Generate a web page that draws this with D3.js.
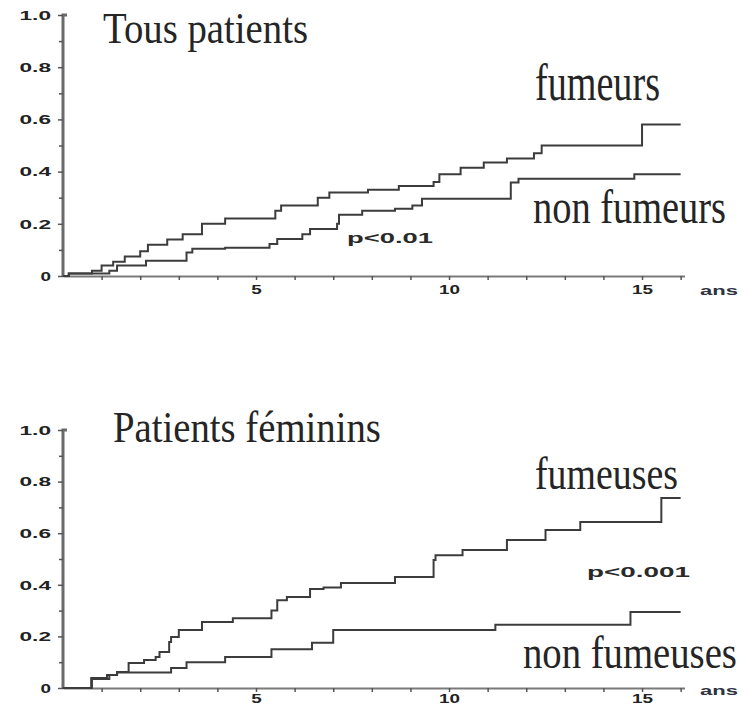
<!DOCTYPE html>
<html>
<head>
<meta charset="utf-8">
<script src="https://cdn.jsdelivr.net/npm/d3@7"></script>
<style>
  body { margin: 0; background: #fff; }
  svg { display: block; }
</style>
</head>
<body>
<svg id="chart" width="742" height="709"></svg>
<script>
// tick labels
const yTicks = [0, 0.2, 0.4, 0.6, 0.8, 1.0];
const yTickLabels = ['0', '0.2', '0.4', '0.6', '0.8', '1.0'];
const yMinorTicks = [0.1, 0.3, 0.5, 0.7, 0.9];
const xTicks = [5, 10, 15];
const xMinorTicks = [1, 2, 3, 4, 6, 7, 8, 9, 11, 12, 13, 14, 16];
const xUnit = 'ans';

// Tous patients - fumeurs (years, cumulative incidence, step after)
const fumeursT = [0, 0.15, 0.75, 1.0, 1.3, 1.6, 2.0, 2.2, 2.7, 3.1, 3.6, 4.2, 5.5, 5.65, 6.6, 6.9, 7.9, 8.7, 9.6, 9.75, 10.3, 10.9, 11.5, 12.2, 12.4, 15.0, 16.0];
const fumeursV = [0, 0.01, 0.02, 0.04, 0.055, 0.075, 0.095, 0.12, 0.14, 0.16, 0.2, 0.22, 0.25, 0.27, 0.3, 0.32, 0.33, 0.345, 0.36, 0.39, 0.415, 0.435, 0.45, 0.47, 0.5, 0.58, 0.58];

// Tous patients - non fumeurs
const nonFumeursT = [0, 0.15, 1.2, 1.4, 2.15, 3.2, 3.35, 4.2, 5.35, 5.55, 6.2, 6.4, 7.1, 7.15, 7.75, 8.6, 9.05, 9.3, 11.4, 11.6, 11.8, 14.8, 16.0];
const nonFumeursV = [0, 0.01, 0.02, 0.04, 0.058, 0.09, 0.104, 0.108, 0.123, 0.142, 0.16, 0.18, 0.2, 0.235, 0.25, 0.258, 0.27, 0.296, 0.296, 0.358, 0.373, 0.39, 0.39];

// Patients feminins - fumeuses
const fumeusesT = [0, 0.73, 1.14, 1.4, 1.7, 2.1, 2.4, 2.5, 2.75, 2.8, 3.0, 3.6, 4.4, 5.4, 5.55, 5.8, 6.4, 6.75, 7.2, 8.6, 9.6, 9.65, 10.35, 11.5, 12.5, 13.4, 15.5, 16.0];
const fumeusesV = [0, 0.039, 0.05, 0.062, 0.097, 0.109, 0.12, 0.14, 0.178, 0.198, 0.225, 0.256, 0.27, 0.3, 0.34, 0.353, 0.384, 0.39, 0.407, 0.43, 0.496, 0.515, 0.535, 0.574, 0.612, 0.643, 0.736, 0.736];

// Patients feminins - non fumeuses
const nonFumeusesT = [0, 0.75, 1.2, 1.4, 2.8, 3.2, 4.2, 5.4, 6.45, 7.0, 11.2, 14.7, 16.0];
const nonFumeusesV = [0, 0.035, 0.05, 0.06, 0.078, 0.1, 0.12, 0.15, 0.175, 0.225, 0.245, 0.295, 0.295];

const svg = d3.select('#chart');

const x = d3.scaleLinear().domain([0, 16.1]).range([63, 684.5]);

const panels = [
  {
    y: d3.scaleLinear().domain([0, 1]).range([276, 15]),
    labelY: 289,
    unitY: 295,
    series: [[fumeursT, fumeursV], [nonFumeursT, nonFumeursV]],
    texts: [
      { s: 'Tous patients', x: 103, y: 43, size: 45, len: 205, serif: true },
      { s: 'fumeurs', x: 535, y: 100, size: 52, len: 125, serif: true },
      { s: 'non fumeurs', x: 533, y: 223, size: 48, len: 193, serif: true },
      { s: 'p<0.01', x: 347, y: 243, size: 14, len: 86, serif: false }
    ]
  },
  {
    y: d3.scaleLinear().domain([0, 1]).range([688, 430]),
    labelY: 698,
    unitY: 695,
    series: [[fumeusesT, fumeusesV], [nonFumeusesT, nonFumeusesV]],
    texts: [
      { s: 'Patients féminins', x: 113, y: 442, size: 44, len: 268, serif: true },
      { s: 'fumeuses', x: 535, y: 489, size: 46, len: 143, serif: true },
      { s: 'non fumeuses', x: 523, y: 668, size: 46, len: 214, serif: true },
      { s: 'p<0.001', x: 587, y: 577, size: 14, len: 103, serif: false }
    ]
  }
];

const line = (y) => d3.line()
  .x(d => x(d[0]))
  .y(d => y(d[1]))
  .curve(d3.curveStepAfter);

// squeeze a text horizontally to a given width
function fitWidth(sel, len) {
  const w = sel.node().getComputedTextLength();
  const x0 = +sel.attr('x'), y0 = +sel.attr('y');
  sel.attr('x', 0).attr('y', 0)
    .attr('transform', 'translate(' + x0 + ',' + y0 + ') scale(' + (len / w) + ',1)');
}

panels.forEach(p => {
  const g = svg.append('g');

  // y axis, major + minor ticks
  const ya = g.append('g')
    .attr('transform', 'translate(' + x(0) + ',0)')
    .call(d3.axisLeft(p.y).tickValues(yTicks).tickFormat((d, i) => yTickLabels[i]).tickSize(5).tickSizeOuter(0).tickPadding(7));
  g.append('g')
    .attr('transform', 'translate(' + x(0) + ',0)')
    .call(d3.axisLeft(p.y).tickValues(yMinorTicks).tickFormat('').tickSize(4))
    .select('.domain').remove();
  ya.select('.domain').attr('stroke', '#6a6a6a').attr('stroke-width', 3)
    .attr('d', 'M0,' + (p.y(1) + 3) + 'V' + p.y(1) + 'H4M0,' + p.y(1) + 'V' + p.y(0));

  // x axis
  const xa = g.append('g')
    .attr('transform', 'translate(0,' + p.y(0) + ')')
    .call(d3.axisBottom(x).tickValues(xTicks).tickSize(4).tickSizeOuter(0));
  g.append('g')
    .attr('transform', 'translate(0,' + p.y(0) + ')')
    .call(d3.axisBottom(x).tickValues(xMinorTicks).tickFormat('').tickSize(4))
    .select('.domain').remove();
  xa.select('.domain').attr('stroke', '#7a7a7a').attr('stroke-width', 2);
  xa.selectAll('text').attr('y', p.labelY - p.y(0)).attr('dy', '0.35em');

  g.selectAll('.tick line').attr('stroke', '#555').attr('stroke-width', 1.5);
  g.selectAll('.tick text')
    .attr('fill', '#222')
    .style('font-family', '"Liberation Sans", Arial, sans-serif')
    .style('font-weight', 'bold')
    .style('font-size', '13.5px')
    .attr('textLength', function () { return this.textContent.length * 10.5; })
    .attr('lengthAdjust', 'spacingAndGlyphs');

  // curves
  p.series.forEach(([t, v]) => {
    g.append('path')
      .datum(t.map((d, i) => [d, v[i]]))
      .attr('d', line(p.y))
      .attr('fill', 'none')
      .attr('stroke', '#3c3c3c')
      .attr('stroke-width', 2);
  });

  // unit label
  const u = g.append('text')
    .attr('x', 700).attr('y', p.unitY)
    .attr('fill', '#2d3342')
    .style('font-family', '"Liberation Sans", Arial, sans-serif')
    .style('font-weight', 'bold')
    .style('font-size', '13px')
    .text(xUnit);
  fitWidth(u, 38);

  // titles and annotations
  p.texts.forEach(t => {
    const el = g.append('text')
      .attr('x', t.x).attr('y', t.y)
      .attr('fill', t.serif ? '#252525' : '#2a2a2a')
      .style('font-family', t.serif ? '"Liberation Serif", "Times New Roman", serif' : '"Liberation Sans", Arial, sans-serif')
      .style('font-weight', t.serif ? 'normal' : 'bold')
      .style('font-size', t.size + 'px')
      .text(t.s);
    fitWidth(el, t.len);
  });
});
</script>
</body>
</html>
